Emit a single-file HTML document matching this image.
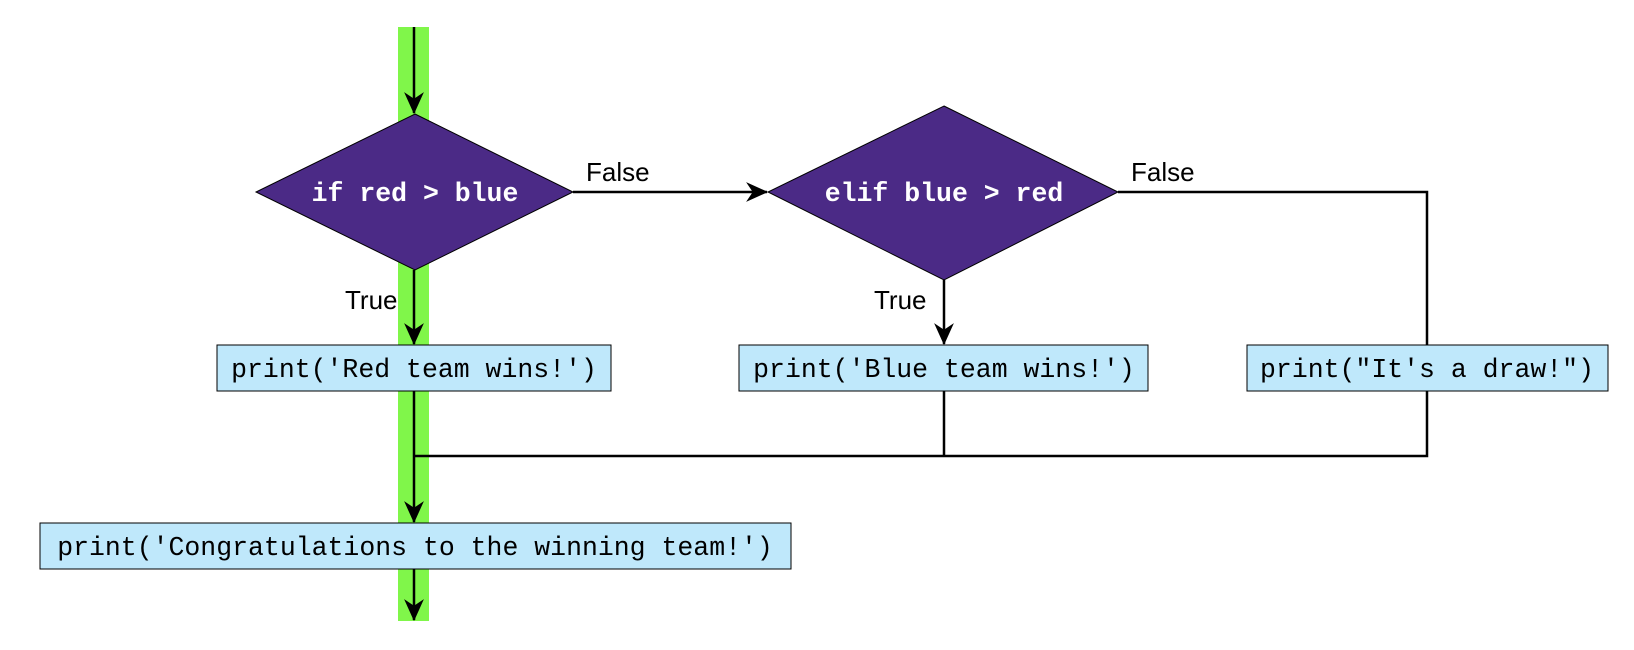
<!DOCTYPE html>
<html><head><meta charset="utf-8"><style>
html,body{margin:0;padding:0;background:#fff;}
svg{display:block;}
.m{font-family:"Liberation Mono",monospace;font-size:26.5px;}
.s{font-family:"Liberation Sans",sans-serif;font-size:26px;}
</style></head><body>
<svg width="1634" height="650" viewBox="0 0 1634 650" xmlns="http://www.w3.org/2000/svg">
<defs>
<marker id="a" viewBox="0 0 20 20" refX="19" refY="10" markerWidth="10" markerHeight="10" markerUnits="userSpaceOnUse" orient="auto">
<path d="M0,0 L20,10 L0,20 L6,10 Z" fill="#000"/>
</marker>
<marker id="b" viewBox="0 0 20 20" refX="19" refY="10" markerWidth="22" markerHeight="22" markerUnits="userSpaceOnUse" orient="auto">
<path d="M0,1 L20,10 L0,19 L6,10 Z" fill="#000"/>
</marker>
</defs>
<rect x="398" y="27" width="31" height="594" fill="#80f64a"/>
<!-- diamonds -->
<polygon points="415,114 573,192 415,270 256,192" fill="#4b2a86" stroke="#000" stroke-width="1"/>
<polygon points="944,106 1118,192 944,280 768,192" fill="#4b2a86" stroke="#000" stroke-width="1"/>
<text x="415" y="201" class="m" font-weight="bold" fill="#fff" text-anchor="middle">if red &gt; blue</text>
<text x="944" y="201" class="m" font-weight="bold" fill="#fff" text-anchor="middle">elif blue &gt; red</text>
<!-- lines -->
<g stroke="#000" stroke-width="2.5" fill="none">
<line x1="414" y1="27" x2="414" y2="113" marker-end="url(#b)"/>
<line x1="414" y1="270" x2="414" y2="344" marker-end="url(#b)"/>
<line x1="573" y1="192" x2="767" y2="192" marker-end="url(#b)"/>
<line x1="944" y1="280" x2="944" y2="344" marker-end="url(#b)"/>
<polyline points="1118,192 1427,192 1427,345"/>
<line x1="414" y1="391" x2="414" y2="522" marker-end="url(#b)"/>
<polyline points="414,456 1427,456 1427,391"/>
<line x1="944" y1="391" x2="944" y2="456"/>
<line x1="414" y1="569" x2="414" y2="620" marker-end="url(#b)"/>
</g>
<!-- boxes -->
<g fill="#bfe8fb" stroke="#000" stroke-width="1">
<rect x="217" y="345" width="394" height="46"/>
<rect x="739" y="345" width="409" height="46"/>
<rect x="1247" y="345" width="361" height="46"/>
<rect x="40" y="523" width="751" height="46"/>
</g>
<text x="414" y="377" class="m" text-anchor="middle">print('Red team wins!')</text>
<text x="944" y="377" class="m" text-anchor="middle">print('Blue team wins!')</text>
<text x="1427" y="377" class="m" text-anchor="middle">print("It's a draw!")</text>
<text x="415" y="555" class="m" text-anchor="middle">print('Congratulations to the winning team!')</text>
<!-- labels -->
<text x="586" y="181" class="s">False</text>
<text x="1131" y="181" class="s">False</text>
<text x="345" y="309" class="s">True</text>
<text x="874" y="309" class="s">True</text>
</svg>
</body></html>
